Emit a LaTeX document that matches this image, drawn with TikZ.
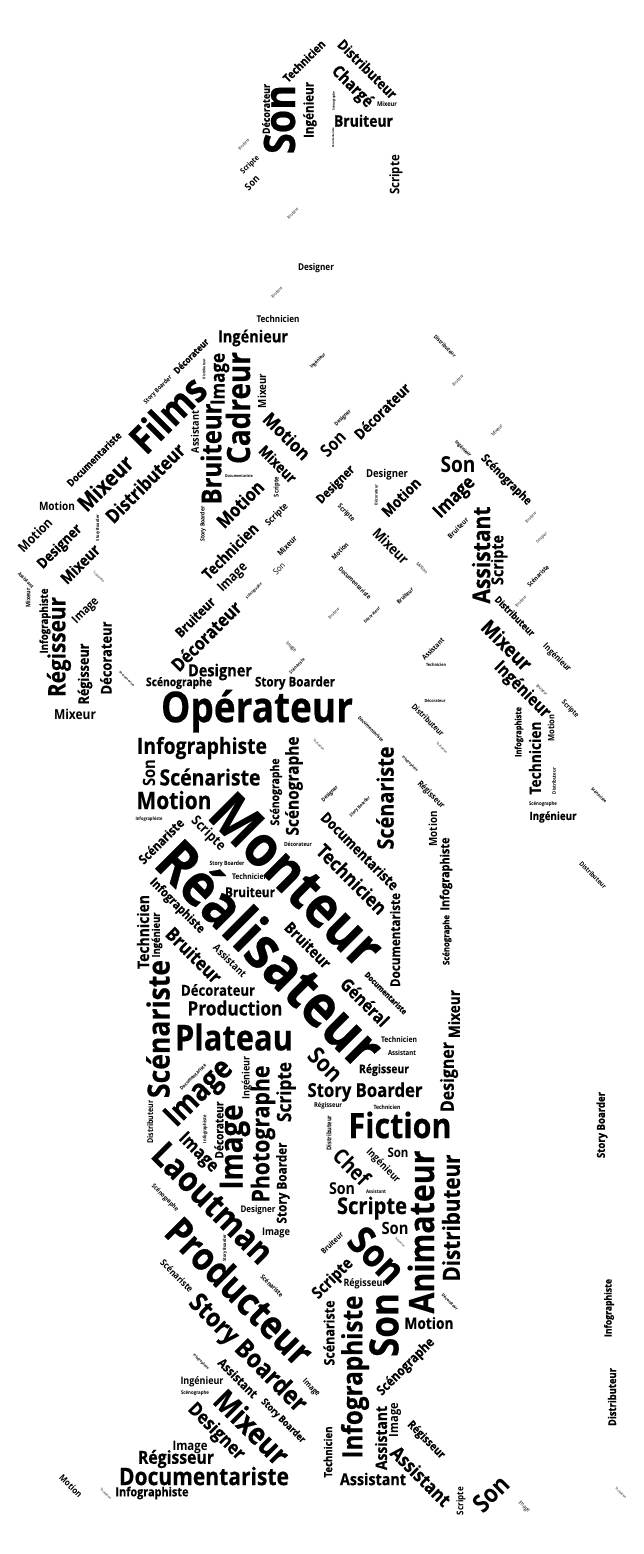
\documentclass[tikz,border=0pt]{standalone}
\usepackage{graphicx}
\usepackage{fontspec}
\setmainfont{Open Sans}[BoldFeatures={FakeBold=0.5}]
\newfontfamily\plainword{Open Sans}
\newcounter{wordnum}
\tikzset{cloudword/.style={inner sep=0pt,outer sep=0pt,text=black,font=\fontsize{20}{24}\selectfont}}
% x, y, angle, length of the word in px, text
\newcommand\W[5]{%
  \stepcounter{wordnum}%
  \node[cloudword,rotate=#3] (w\thewordnum) at (#1,#2)
    {\ifdim #4pt<15pt \plainword\else\ifdim #4pt<45pt \plainword\bfseries\else\bfseries\fi\fi
     \scalebox{1}[1.15]{\resizebox{#4pt}{!}{#5}}};}
\begin{document}
\begin{tikzpicture}[x=1pt,y=-1pt]
\useasboundingbox (0,0) rectangle (643,1554);
\fill[white] (0,0) rectangle (643,1554);
% head
\W{279.5}{119.5}{90}{69}{Son}
\W{266}{109}{90}{50}{Décorateur}
\W{310}{110}{90}{56}{Ingénieur}
\W{304}{61}{45}{54}{Technicien}
\W{367.5}{69}{-45}{77}{Distributeur}
\W{352}{87}{-45}{51}{Chargé}
\W{387}{103.7}{0}{20}{Mixeur}
\W{334}{101}{90}{19}{Scénographe}
\W{363.5}{120.7}{0}{59}{Bruiteur}
\W{333}{138}{90}{20}{Documentariste}
\W{244}{144}{45}{14}{Bruiteur}
\W{250}{165}{45}{23}{Scripte}
\W{252}{183}{45}{16}{Son}
\W{396}{175}{90}{40}{Scripte}
\W{293}{213}{45}{14}{Bruiteur}
\W{316}{268}{0}{36}{Designer}
\W{277}{292}{45}{14}{Bruiteur}
\W{278}{319}{0}{43}{Technicien}
% arms and shoulders, left
\W{253}{338}{0}{70}{Ingénieur}
\W{191}{356}{45}{45}{Décorateur}
\W{204}{369}{90}{20}{Distributeur}
\W{220}{379}{90}{52}{Image}
\W{238}{408}{90}{112}{Cadreur}
\W{262}{391}{90}{34}{Mixeur}
\W{158}{390}{45}{37}{Story Boarder}
\W{167.5}{414}{45}{90}{Films}
\W{195}{432}{90}{42}{Assistant}
\W{211}{454}{90}{101}{Bruiteur}
\W{287}{436}{-45}{58}{Motion}
\W{278}{464}{-45}{46}{Mixeur}
\W{94}{459}{45}{72}{Documentariste}
\W{105}{483}{45}{68}{Mixeur}
\W{145}{483}{45}{103}{Distributeur}
\W{239}{476}{0}{28}{Documentariste}
\W{277}{487}{90}{20}{Scripte}
\W{240}{504}{45}{58}{Motion}
\W{57}{506}{0}{36}{Motion}
\W{98}{528}{90}{26}{Story Boarder}
\W{203}{524}{90}{35}{Story Boarder}
\W{277}{515}{45}{28}{Scripte}
\W{35}{535}{45}{42}{Motion}
\W{60}{547}{45}{56}{Designer}
\W{80}{564}{45}{48}{Mixeur}
\W{230}{551}{45}{72}{Technicien}
\W{287}{546}{45}{24}{Mixeur}
\W{279}{569}{45}{13}{Son}
\W{99}{577}{-45}{14}{Scénariste}
\W{26}{580}{-45}{20}{Assistant}
\W{28}{598}{90}{19}{Mixeur}
\W{45}{621}{90}{65}{Infographiste}
\W{59}{647}{90}{100}{Régisseur}
\W{86}{611}{45}{32}{Image}
\W{233}{578}{45}{36}{Image}
\W{254}{591}{45}{21}{Scénographe}
\W{195}{617}{45}{50}{Bruiteur}
\W{206}{636}{45}{90}{Décorateur}
\W{291}{647}{-45}{13}{Image}
\W{297}{666}{45}{20}{Scénariste}
\W{85}{674}{90}{61}{Régisseur}
\W{106}{658}{90}{73}{Décorateur}
\W{127}{679}{-45}{20}{Documentariste}
\W{220}{672}{0}{64}{Designer}
\W{179}{683}{0}{66}{Scénographe}
\W{295}{683}{0}{80}{Story Boarder}
\W{75}{714}{0}{42}{Mixeur}
\W{257}{711}{0}{192}{Opérateur}
\W{318}{361}{45}{20}{Ingénieur}
% arm, right
\W{445}{346}{-45}{29}{Distributeur}
\W{458}{380}{45}{14}{Bruiteur}
\W{382}{411}{45}{72}{Décorateur}
\W{343}{418}{45}{21}{Designer}
\W{333}{444}{45}{28}{Son}
\W{497}{430}{45}{14}{Mixeur}
\W{463}{449}{-45}{21}{Ingénieur}
\W{458}{465}{0}{35}{Son}
\W{506}{480}{-45}{66}{Scénographe}
\W{336}{485}{45}{48}{Designer}
\W{387}{475}{0}{42}{Designer}
\W{376}{495}{90}{20}{Décorateur}
\W{401}{497}{45}{48}{Motion}
\W{455}{498}{45}{50}{Image}
\W{346}{513}{-45}{21}{Scripte}
\W{481}{555}{90}{97}{Assistant}
\W{499}{560}{90}{50}{Scripte}
\W{458}{528}{45}{26}{Bruiteur}
\W{531}{517}{45}{14}{Bruiteur}
\W{542}{538}{45}{14}{Designer}
\W{391}{546}{-45}{44}{Mixeur}
\W{340}{551}{45}{21}{Motion}
\W{422}{568}{-45}{14}{Motion}
\W{355}{583}{-45}{43}{Documentariste}
\W{538}{576}{45}{28}{Scénariste}
\W{405}{596}{45}{21}{Bruiteur}
\W{521}{601}{45}{14}{Bruiteur}
\W{334}{613}{45}{14}{Bruiteur}
\W{372}{615}{45}{21}{Décorateur}
\W{515}{616}{-45}{52}{Distributeur}
\W{507}{645}{-45}{62}{Mixeur}
\W{557}{658}{-45}{36}{Ingénieur}
\W{433}{649}{45}{28}{Assistant}
\W{436}{665}{0}{20}{Technicien}
\W{522}{690}{-45}{72}{Ingénieur}
\W{542}{690}{-45}{14}{Bruiteur}
\W{570}{709}{-45}{21}{Scripte}
\W{435}{701}{0}{21}{Décorateur}
\W{428}{720}{-45}{42}{Distributeur}
\W{371}{729}{-45}{34}{Documentariste}
\W{319}{745}{-45}{14}{Technicien}
\W{442}{748}{-45}{14}{Technicien}
\W{410}{764}{-45}{21}{Infographiste}
\W{385}{798}{90}{103}{Scénariste}
\W{431}{795}{-45}{35}{Régisseur}
\W{330}{794}{45}{21}{Designer}
\W{360}{807}{45}{27}{Story Boarder}
\W{433}{829}{90}{35}{Motion}
\W{360}{851}{-45}{103}{Documentariste}
\W{352}{879}{-45}{90}{Technicien}
\W{446}{874}{90}{73}{Infographiste}
\W{395}{940}{90}{94}{Documentariste}
\W{447}{940}{90}{50}{Scénographe}
\W{519}{732}{90}{50}{Infographiste}
\W{535}{758}{90}{73}{Technicien}
\W{551}{728}{90}{27}{Motion}
\W{554}{781}{90}{26}{Distributeur}
\W{543}{804}{0}{28}{Scénographe}
\W{553}{817}{0}{47}{Ingénieur}
\W{599}{795}{-45}{20}{Scénariste}
\W{593}{875}{-45}{35}{Distributeur}
\W{454}{1014}{90}{48}{Mixeur}
% body
\W{202}{748}{0}{130}{Infographiste}
\W{149}{773}{90}{27}{Son}
\W{210}{777}{0}{101}{Scénariste}
\W{174}{800}{0}{75}{Motion}
\W{276}{792}{90}{67}{Scénographe}
\W{294}{786}{90}{99}{Scénographe}
\W{149}{819}{0}{27}{Infographiste}
\W{161}{841}{45}{58}{Scénariste}
\W{208}{834}{-45}{42}{Scripte}
\W{297}{880}{-45}{218}{Monteur}
\W{271}{953}{-45}{292}{Réalisateur}
\W{298}{844}{0}{28}{Décorateur}
\W{227}{864}{0}{35}{Story Boarder}
\W{250}{877}{0}{36}{Technicien}
\W{250}{892}{0}{50}{Bruiteur}
\W{177}{906}{-45}{72}{Infographiste}
\W{143}{932}{90}{74}{Technicien}
\W{157}{935}{90}{45}{Ingénieur}
\W{194}{955}{-45}{70}{Bruiteur}
\W{230}{961}{-45}{42}{Assistant}
\W{308}{945}{-45}{58}{Bruiteur}
\W{386}{993}{-45}{56}{Documentariste}
\W{365}{1002}{-45}{60}{Général}
\W{158}{1029}{90}{138}{Scénariste}
\W{218}{990}{0}{74}{Décorateur}
\W{235}{1008}{0}{95}{Production}
\W{234}{1037}{0}{118}{Plateau}
\W{193}{1077}{45}{35}{Documentariste}
\W{200}{1094}{45}{82}{Image}
\W{247}{1078}{90}{43}{Ingénieur}
\W{263}{1134}{90}{137}{Photographe}
\W{286}{1092}{90}{60}{Scripte}
\W{150}{1122}{90}{43}{Distributeur}
\W{205}{1129}{90}{28}{Infographiste}
\W{219}{1130}{90}{57}{Décorateur}
\W{235}{1147}{90}{85}{Image}
\W{198}{1153}{-45}{48}{Image}
\W{283}{1183}{90}{81}{Story Boarder}
\W{213}{1203}{-45}{155}{Laoutman}
\W{165}{1198}{-45}{35}{Scénographe}
\W{258}{1210}{0}{35}{Designer}
\W{276}{1233}{0}{28}{Image}
\W{225}{1248}{90}{27}{Story Boarder}
\W{240}{1291}{-45}{190}{Producteur}
\W{177}{1276}{-45}{42}{Scénariste}
\W{272}{1286}{-45}{29}{Scénariste}
\W{247}{1354}{-45}{155}{Story Boarder}
\W{201}{1362}{-45}{21}{Infographiste}
\W{238}{1378}{-45}{50}{Assistant}
\W{202}{1382}{0}{43}{Ingénieur}
\W{195}{1393}{0}{28}{Scénographe}
\W{311}{1388}{-45}{21}{Image}
\W{252}{1427}{-45}{92}{Mixeur}
\W{283}{1421}{-45}{58}{Story Boarder}
\W{216}{1432}{-45}{72}{Designer}
\W{190}{1447}{0}{35}{Image}
\W{176}{1459}{0}{76}{Régisseur}
\W{204}{1476}{0}{170}{Documentariste}
\W{152}{1493}{0}{73}{Infographiste}
\W{71}{1486}{-45}{28}{Motion}
\W{106}{1494}{-45}{14}{Technicien}
\W{328}{1452}{90}{51}{Technicien}
% right leg
\W{329}{1333}{90}{65}{Scénariste}
\W{355}{1377}{90}{163}{Infographiste}
\W{384}{1325}{90}{64}{Son}
\W{421}{1232}{90}{163}{Animateur}
\W{451}{1218}{90}{127}{Distributeur}
\W{429}{1323}{0}{49}{Motion}
\W{450}{1302}{-45}{21}{Décorateur}
\W{406}{1367}{45}{75}{Scénographe}
\W{381}{1438}{90}{64}{Assistant}
\W{395}{1420}{90}{34}{Image}
\W{426}{1440}{-45}{48}{Régisseur}
\W{421}{1476}{-45}{76}{Assistant}
\W{373}{1479}{0}{66}{Assistant}
\W{461}{1501}{90}{28}{Scripte}
\W{491}{1494}{45}{40}{Son}
\W{524}{1507}{-45}{14}{Image}
\W{621}{1493}{-45}{14}{Technicien}
\W{609}{1308}{90}{58}{Infographiste}
\W{612}{1397}{90}{58}{Distributeur}
\W{602}{1125}{90}{66}{Story Boarder}
\W{326}{1065}{-45}{38}{Son}
\W{399}{1040}{0}{36}{Technicien}
\W{402}{1053}{0}{28}{Assistant}
\W{384}{1070}{0}{50}{Régisseur}
\W{449}{1077}{90}{70}{Designer}
\W{365}{1092}{0}{115}{Story Boarder}
\W{328}{1106}{0}{28}{Régisseur}
\W{387}{1107}{0}{27}{Technicien}
\W{400}{1125}{0}{103}{Fiction}
\W{329}{1133}{90}{35}{Distributeur}
\W{398}{1153}{0}{21}{Son}
\W{352}{1167}{-45}{42}{Chef}
\W{383}{1166}{-45}{43}{Ingénieur}
\W{342}{1189}{0}{26}{Son}
\W{376}{1192}{0}{20}{Assistant}
\W{372}{1208}{0}{70}{Scripte}
\W{395}{1228}{0}{27}{Son}
\W{377}{1255}{-45}{62}{Son}
\W{400}{1242}{-45}{13}{Technicien}
\W{332}{1243}{45}{28}{Bruiteur}
\W{333}{1279}{45}{50}{Scripte}
\W{365}{1284}{0}{43}{Régisseur}
\end{tikzpicture}
\end{document}
